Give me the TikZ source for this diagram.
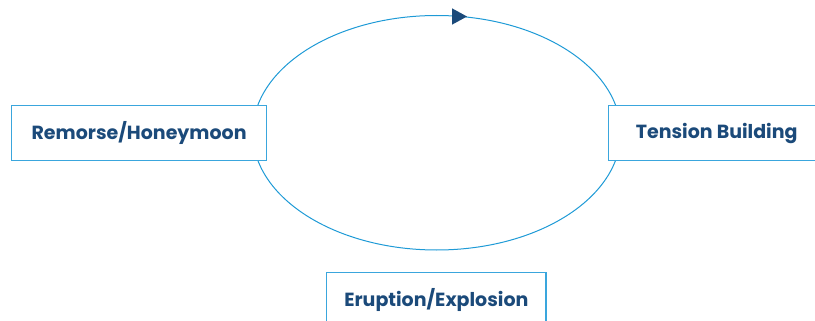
\documentclass[tikz,border=0pt]{standalone}
\usepackage{fontspec}
\setmainfont{Poppins}
\definecolor{txtblue}{HTML}{1B4A7A}
\definecolor{boxblue}{HTML}{3AA6DD}
\definecolor{ringblue}{HTML}{1E9AD6}
\begin{document}
\begin{tikzpicture}[x=1pt,y=-1pt,
  phase/.style={draw=boxblue,line width=1.5pt,fill=white,minimum height=55pt,
    text=txtblue,font=\fontsize{19}{22}\selectfont\bfseries,inner sep=0pt}]
\useasboundingbox (0,0) rectangle (815,321);
\draw[ringblue,line width=1pt] (436.7,132.75) ellipse [x radius=184pt, y radius=117.25pt];
\fill[txtblue] (452,8.3) -- (467,16.5) -- (452,24.7) -- cycle;
\node[phase,minimum width=254.8pt] (remorse) at (139.1,133.2) {Remorse/Honeymoon};
\node[phase,minimum width=216.8pt] (tension) at (716.7,133.2) {Tension Building};
\node[phase,minimum width=219.3pt] (eruption) at (436.35,299.8) {Eruption/Explosion};
\end{tikzpicture}
\end{document}
